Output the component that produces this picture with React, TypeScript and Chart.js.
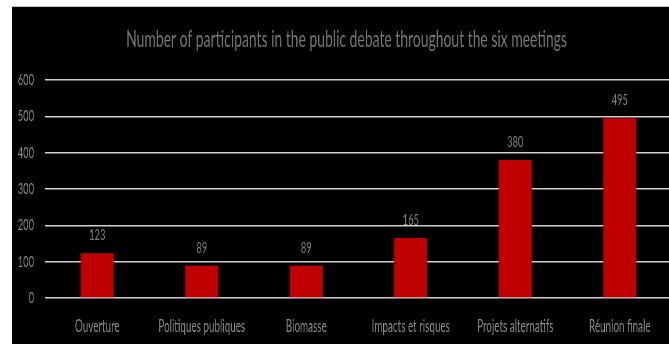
import { useEffect, useRef } from "react";
import { Chart, registerables } from "chart.js";

Chart.register(...registerables);

const TITLE = "Number of participants in the public debate throughout the six meetings";
const categories = [
  "Ouverture",
  "Politiques publiques",
  "Biomasse",
  "Impacts et risques",
  "Projets alternatifs",
  "Réunion finale",
];
const participants = [123, 89, 89, 165, 380, 495];
const yMin = 0;
const yMax = 600;
const yStep = 100;

// horizontal squeeze of the whole picture (the reference is narrow-stretched)
const SX = 0.58;
const DISPLAY_W = 660;
const DISPLAY_H = 337;
const LOGICAL_W = Math.round(DISPLAY_W / SX);
const FONT = "Lato, 'Open Sans', sans-serif";

const titlePlugin = {
  id: "sketchTitle",
  afterDraw(chart: any) {
    const ctx = chart.ctx;
    ctx.save();
    ctx.font = `24px ${FONT}`;
    ctx.fillStyle = "#767676";
    ctx.textAlign = "center";
    ctx.textBaseline = "alphabetic";
    ctx.fillText(TITLE, 334.5 / SX, 40);
    ctx.restore();
  },
};

const valueLabels = {
  id: "valueLabels",
  afterDatasetsDraw(chart: any) {
    const ctx = chart.ctx;
    ctx.save();
    ctx.font = `16px ${FONT}`;
    ctx.fillStyle = "#7f7f7f";
    ctx.textAlign = "center";
    ctx.textBaseline = "alphabetic";
    chart.getDatasetMeta(0).data.forEach((bar: any, i: number) => {
      ctx.fillText(String(chart.data.datasets[0].data[i]), bar.x, bar.y - 13);
    });
    ctx.restore();
  },
};

export default function App() {
  const ref = useRef<HTMLCanvasElement | null>(null);
  useEffect(() => {
    if (!ref.current) return;
    const chart = new Chart(ref.current, {
      type: "bar",
      data: {
        labels: categories,
        datasets: [
          {
            data: participants,
            backgroundColor: "#c00000",
            borderWidth: 0,
            barPercentage: 0.316,
            categoryPercentage: 1,
          },
        ],
      },
      options: {
        responsive: false,
        animation: false,
        layout: { padding: { top: 73, left: 0, right: 0, bottom: 0 } },
        plugins: {
          legend: { display: false },
          title: { display: false },
          tooltip: { enabled: false },
        },
        scales: {
          x: {
            grid: { display: false, drawTicks: false },
            border: { display: false },
            ticks: {
              color: "#8c8c8c",
              font: { family: FONT, size: 17 },
              padding: 18,
              maxRotation: 0,
              autoSkip: false,
            },
            afterFit(scale: any) {
              scale.height = 46;
            },
          },
          y: {
            min: yMin,
            max: yMax,
            grid: { color: "#d0d0d0", lineWidth: 1.6, drawTicks: false },
            border: { display: false },
            ticks: {
              stepSize: yStep,
              color: "#8c8c8c",
              font: { family: FONT, size: 16 },
              padding: 11 / SX,
            },
            afterFit(scale: any) {
              scale.width = 33 / SX;
            },
          },
        },
      },
      plugins: [titlePlugin, valueLabels],
    });
    return () => chart.destroy();
  }, []);

  return (
    <div
      style={{
        position: "absolute",
        left: 12,
        top: 6,
        width: 657,
        height: 338,
        overflow: "hidden",
        background: "#000",
        borderTop: "1px solid #c8c8c8",
        boxSizing: "border-box",
      }}
    >
      <div
        style={{
          width: LOGICAL_W,
          height: DISPLAY_H,
          transform: `scaleX(${SX})`,
          transformOrigin: "0 0",
        }}
      >
        <canvas ref={ref} width={LOGICAL_W} height={DISPLAY_H} />
      </div>
    </div>
  );
}
